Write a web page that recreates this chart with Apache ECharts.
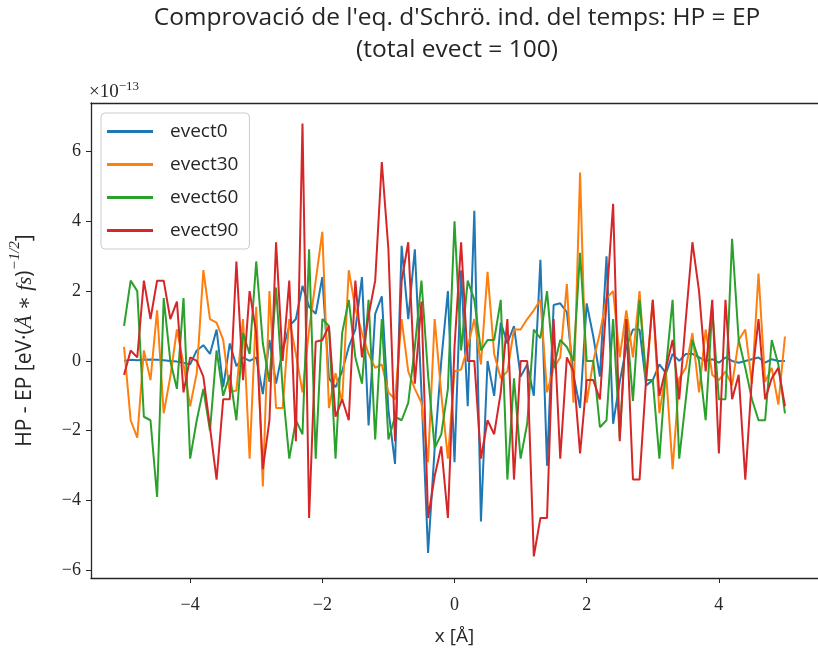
<!DOCTYPE html>
<html><head><meta charset="utf-8">
<script src="https://cdn.jsdelivr.net/npm/echarts@6/dist/echarts.min.js"></script>
<style>html,body{margin:0;padding:0;background:#fff}#c{width:818px;height:655px}</style>
</head><body><div id="c"></div>
<script>
const xs = [-5.0,-4.9,-4.8,-4.7,-4.6,-4.5,-4.4,-4.3,-4.2,-4.1,-4.0,-3.9,-3.8,-3.7,-3.6,-3.5,-3.4,-3.3,-3.2,-3.1,
-3.0,-2.9,-2.8,-2.7,-2.6,-2.5,-2.4,-2.3,-2.2,-2.1,-2.0,-1.9,-1.8,-1.7,-1.6,-1.5,-1.4,-1.3,-1.2,-1.1,
-1.0,-0.9,-0.8,-0.7,-0.6,-0.5,-0.4,-0.3,-0.2,-0.1,0.0,0.1,0.2,0.3,0.4,0.5,0.6,0.7,0.8,0.9,
1.0,1.1,1.2,1.3,1.4,1.5,1.6,1.7,1.8,1.9,2.0,2.1,2.2,2.3,2.4,2.5,2.6,2.7,2.8,2.9,
3.0,3.1,3.2,3.3,3.4,3.5,3.6,3.7,3.8,3.9,4.0,4.1,4.2,4.3,4.4,4.5,4.6,4.7,4.8,4.9,5.0];

const evect0 = [0.0,0.03,0.02,0.03,0.04,0.03,0.02,0.0,-0.02,-0.05,-0.1,0.3,0.45,0.2,0.9,-0.75,0.5,-0.15,0.1,0.0,
0.1,-0.95,0.6,-0.65,0.3,1.0,1.2,2.15,1.55,1.35,2.4,-0.5,-0.75,-0.3,0.4,0.9,2.4,-1.85,1.35,1.85,
-1.4,-2.95,3.3,1.2,3.2,-0.9,-5.5,-2.5,0.0,2.0,-2.9,2.6,-1.3,4.3,-4.6,0.0,-1.0,1.1,0.5,1.0,
-0.45,-0.1,-1.0,2.9,-3.0,1.6,1.65,1.4,-0.4,-1.35,1.65,0.7,-0.45,3.0,-1.8,-0.6,0.4,0.9,0.9,-0.7,
-0.55,-0.1,-0.35,0.2,0.0,0.2,0.2,0.1,0.0,0.05,-0.05,0.1,0.0,-0.05,0.0,0.05,0.1,-0.05,0.05,0.0,0.0];

const evect30 = [0.4,-1.7,-2.2,0.3,-0.55,1.45,-1.5,-0.45,0.9,-0.1,-1.3,-0.35,2.6,1.2,1.1,0.6,-0.9,-0.85,1.2,-2.8,
1.55,-3.6,2.0,-1.35,-1.35,1.2,0.2,-0.9,0.9,2.3,3.7,-1.35,-0.35,-1.2,2.6,1.5,0.8,0.2,-0.2,-0.1,
-0.9,-1.1,1.2,-0.3,-0.8,-1.2,-2.9,1.2,-0.95,-2.8,-0.3,-0.25,0.4,1.2,-0.1,2.55,0.2,-0.5,-0.3,0.9,
0.9,1.2,1.45,1.75,-0.9,-0.2,0.1,2.2,-1.2,5.4,-1.2,0.0,0.8,1.8,2.0,0.1,1.45,0.1,2.0,-0.6,
1.75,-1.5,-0.3,-3.1,-0.5,-0.2,0.8,-0.9,0.9,-0.4,-0.55,-0.3,-0.7,0.6,0.9,-0.65,2.5,-0.6,-0.2,-1.25,0.7];

const evect60 = [1.0,2.3,2.0,-1.6,-1.7,-3.9,1.8,0.0,-0.8,1.8,-2.8,-1.7,-0.8,-2.0,0.3,-1.0,-0.4,-1.7,0.8,0.2,
2.85,0.5,-0.6,2.1,-0.8,-2.8,-1.7,-2.1,3.2,-2.8,1.2,1.0,-2.8,0.8,1.75,0.1,-0.65,1.75,-2.25,1.2,
-2.25,-1.6,-1.7,-1.2,0.4,2.3,-0.4,-2.5,-2.1,-0.8,4.0,0.3,2.3,1.75,0.3,0.6,0.6,1.75,-3.4,-0.5,
-2.8,-1.8,0.9,0.65,2.0,-0.2,0.6,0.4,0.0,3.1,0.0,0.0,-1.9,-1.7,1.2,-2.2,1.2,-1.15,1.75,-0.55,
-0.55,-2.8,-0.2,1.75,-2.8,-1.1,0.6,0.0,-1.7,1.5,-1.1,-1.1,3.5,0.6,-0.2,-1.1,-1.7,-1.7,0.6,-0.1,-1.5];

const evect90 = [-0.4,0.3,0.1,2.3,1.2,2.3,2.3,1.2,1.7,-0.9,0.1,0.0,-0.45,-1.9,-3.4,-1.1,-1.1,2.85,-0.55,2.0,
0.8,-3.1,-1.7,3.4,0.0,2.3,-2.3,6.8,-4.5,0.55,0.6,1.0,-1.6,-1.1,-1.7,2.3,0.1,1.3,2.3,5.7,
3.2,-2.3,2.3,3.4,-0.65,1.7,-4.5,-3.3,-2.45,-4.5,0.4,3.4,0.0,0.0,-2.8,-1.7,-2.1,-0.9,1.2,-3.4,
0.0,0.0,-5.6,-4.5,-4.5,1.2,-2.8,0.1,-0.3,-2.65,-0.55,-0.55,-1.1,1.7,4.5,-2.3,1.2,-3.4,-3.4,-0.5,
1.75,-1.0,-0.2,0.6,-1.1,1.2,3.4,2.0,-0.3,1.75,-2.65,1.75,-1.1,-0.4,-3.4,-0.5,1.2,-1.1,-0.5,-0.2,-1.3];

const seriesNames = ['evect0','evect30','evect60','evect90'];
const seriesValues = [evect0, evect30, evect60, evect90];
const colors = ['#1f77b4','#ff7f0e','#2ca02c','#d62728'];
const xTicks = [-4,-2,0,2,4];
const yTicks = [-6,-4,-2,0,2,4,6];
const titleLine1 = "Comprovació de l'eq. d'Schrö. ind. del temps: HP = EP";
const titleLine2 = "(total evect = 100)";

const SANS = "'Open Sans',Lato,sans-serif";
const SERIF = "'Liberation Serif','DejaVu Serif',serif";
const fmt = v => (v < 0 ? '\u2212' + Math.abs(v) : String(v));

const chart = echarts.init(document.getElementById('c'), null, {renderer:'canvas'});
const axisCol = '#262626';
chart.setOption({
  animation: false,
  backgroundColor: '#fff',
  grid: {left: 91, right: -8, top: 103, bottom: 77, containLabel: false},
  xAxis: [{
    type: 'value', min: -5.5, max: 5.5, position: 'bottom',
    axisLine: {show: true, onZero: false, lineStyle: {color: axisCol, width: 1.3}},
    axisTick: {show: true, length: 5, customValues: xTicks, lineStyle: {color: axisCol, width: 1}},
    axisLabel: {customValues: xTicks, formatter: fmt, fontFamily: SERIF, fontSize: 18, color: '#262626', margin: 18},
    splitLine: {show: false},
    name: 'x [Å]', nameLocation: 'middle', nameGap: 49,
    nameTextStyle: {fontFamily: SANS, fontSize: 19, color: '#262626'}
  }, {
    type: 'value', min: -5.5, max: 5.5, position: 'top',
    axisLine: {show: true, onZero: false, lineStyle: {color: axisCol, width: 1.3}},
    axisTick: {show: false}, axisLabel: {show: false}, splitLine: {show: false}
  }],
  yAxis: [{
    type: 'value', min: -6.22, max: 7.39, position: 'left',
    axisLine: {show: true, onZero: false, lineStyle: {color: axisCol, width: 1.3}},
    axisTick: {show: true, length: 5, customValues: yTicks, lineStyle: {color: axisCol, width: 1}},
    axisLabel: {customValues: yTicks, formatter: fmt, fontFamily: SERIF, fontSize: 18, color: '#262626', margin: 10},
    splitLine: {show: false},
    name: '{a|HP - EP [eV·(}{m|Å ∗ fs}{a|)}{s|−1/2}{a|]}',
    nameLocation: 'middle', nameGap: 55,
    nameTextStyle: {
      rich: {
        a: {fontFamily: SANS, fontSize: 21, color: '#262626', lineHeight: 28, verticalAlign: 'bottom'},
        m: {fontFamily: SERIF, fontStyle: 'italic', fontSize: 21, color: '#262626', lineHeight: 28, verticalAlign: 'bottom'},
        s: {fontFamily: SERIF, fontStyle: 'italic', fontSize: 15, color: '#262626', lineHeight: 28, verticalAlign: 'top'}
      }
    }
  }],
  legend: {
    orient: 'vertical', left: 101, top: 113,
    data: seriesNames,
    icon: 'rect', itemWidth: 46, itemHeight: 3, itemGap: 14,
    padding: [9, 11, 9, 6],
    borderColor: '#cccccc', borderWidth: 1, borderRadius: 4,
    backgroundColor: 'rgba(255,255,255,0.8)',
    textStyle: {fontFamily: SANS, fontSize: 19, color: '#262626', padding: [0, 0, 0, 12]}
  },
  graphic: [
    {type: 'text', x: 457, y: 18, style: {text: titleLine1, font: "24.5px " + SANS, fill: '#262626', align: 'center', verticalAlign: 'middle'}},
    {type: 'text', x: 457, y: 50, style: {text: titleLine2, font: "24.5px " + SANS, fill: '#262626', align: 'center', verticalAlign: 'middle'}},
    {type: 'text', x: 89, y: 91, style: {
      text: '{b|×10}{s|−13}', verticalAlign: 'middle',
      rich: {b: {fontFamily: SERIF, fontSize: 19, fill: '#262626', lineHeight: 22, verticalAlign: 'bottom'},
             s: {fontFamily: SERIF, fontSize: 13, fill: '#262626', lineHeight: 22, verticalAlign: 'top'}}
    }}
  ],
  series: seriesNames.map((n, k) => ({
    name: n, type: 'line', xAxisIndex: 0, yAxisIndex: 0,
    data: xs.map((x, i) => [x, seriesValues[k][i]]),
    showSymbol: false, symbol: 'none',
    lineStyle: {color: colors[k], width: 2},
    itemStyle: {color: colors[k]},
    z: 2 + k
  }))
});
</script>
</body></html>
